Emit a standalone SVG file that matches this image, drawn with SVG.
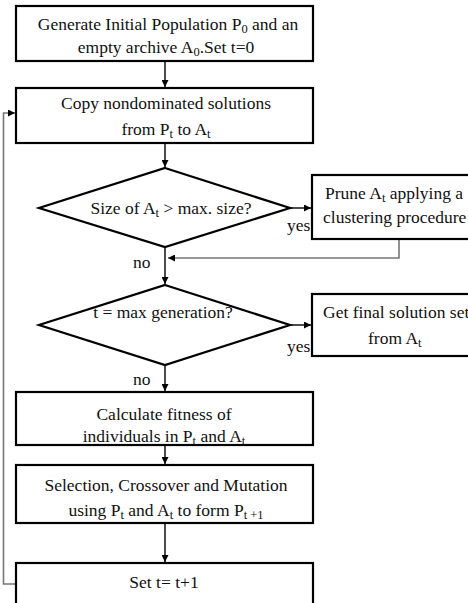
<svg xmlns="http://www.w3.org/2000/svg" width="468" height="603" viewBox="0 0 468 603">
  <defs>
    <marker id="arrow" viewBox="0 0 10 10" refX="10" refY="5" markerWidth="7" markerHeight="7" markerUnits="userSpaceOnUse" orient="auto">
      <path d="M0,0 L10,5 L0,10 Z" fill="#000"/>
    </marker>
  </defs>
  <style>
    .box { fill: #fff; stroke: #000; stroke-width: 2.2; }
    .dia { fill: #fff; stroke: #000; stroke-width: 2.2; }
    .lbl { font-family: "Liberation Serif", "Times New Roman", serif; font-size: 17.5px; fill: #111; }
    .c { text-anchor: middle; }
    .sub { font-size: 12.5px; }
    .flow { stroke: #000; stroke-width: 1.4; fill: none; marker-end: url(#arrow); }
    .back { stroke: #777; stroke-width: 1.6; fill: none; marker-end: url(#arrow); }
  </style>
  <rect width="468" height="603" fill="#fff"/>

  <g id="connectors">
    <line class="flow" x1="165" y1="61" x2="165" y2="87"/>
    <line class="flow" x1="165" y1="143" x2="165" y2="167"/>
    <line class="flow" x1="290" y1="208" x2="311" y2="208"/>
    <polyline class="back" points="399,239 399,258 168,258"/>
    <line class="flow" x1="165" y1="247" x2="165" y2="284"/>
    <line class="flow" x1="290" y1="325" x2="311" y2="325"/>
    <line class="flow" x1="165" y1="365" x2="165" y2="391"/>
    <line class="flow" x1="165" y1="445" x2="165" y2="464"/>
    <line class="flow" x1="165" y1="523" x2="165" y2="562"/>
    <polyline class="back" points="16,584 3.5,584 3.5,113 15,113"/>
    <text class="lbl" x="287" y="231">yes</text>
    <text class="lbl" x="133" y="268">no</text>
    <text class="lbl" x="287" y="352">yes</text>
    <text class="lbl" x="133" y="385">no</text>
  </g>

  <g id="init">
    <rect class="box" x="16" y="6" width="297" height="55"/>
    <text class="lbl c" x="168" y="30">Generate Initial Population  P<tspan class="sub" dy="3">0</tspan><tspan dy="-3"> and an</tspan></text>
    <text class="lbl c" x="166" y="53">empty archive A<tspan class="sub" dy="3">0</tspan><tspan dy="-3">.Set t=0</tspan></text>
  </g>

  <g id="copy">
    <rect class="box" x="16" y="88" width="297" height="55"/>
    <text class="lbl c" x="166" y="109">Copy nondominated solutions</text>
    <text class="lbl c" x="166" y="135">from P<tspan class="sub" dy="3">t</tspan><tspan dy="-3"> to A</tspan><tspan class="sub" dy="3">t</tspan></text>
  </g>

  <g id="size-check">
    <polygon class="dia" points="165,168 290,208 165,247 39,208"/>
    <text class="lbl c" x="171" y="214">Size of A<tspan class="sub" dy="3">t</tspan><tspan dy="-3"> &gt; max. size?</tspan></text>
  </g>

  <g id="prune">
    <rect class="box" x="312" y="175" width="170" height="64"/>
    <text class="lbl" x="325" y="199">Prune A<tspan class="sub" dy="3">t</tspan><tspan dy="-3"> applying a</tspan></text>
    <text class="lbl" x="323" y="223">clustering  procedure</text>
  </g>

  <g id="gen-check">
    <polygon class="dia" points="165,285 290,325 165,365 39,325"/>
    <text class="lbl c" x="163" y="318">t = max generation?</text>
  </g>

  <g id="final">
    <rect class="box" x="312" y="294" width="170" height="62"/>
    <text class="lbl" x="323" y="318">Get final solution set</text>
    <text class="lbl" x="368" y="344">from A<tspan class="sub" dy="3">t</tspan></text>
  </g>

  <g id="fitness">
    <rect class="box" x="16" y="392" width="297" height="53"/>
    <text class="lbl c" x="164" y="420">Calculate fitness of</text>
    <text class="lbl c" x="164" y="442">individuals in P<tspan class="sub" dy="3">t</tspan><tspan dy="-3"> and A</tspan><tspan class="sub" dy="3">t</tspan></text>
  </g>

  <g id="variation">
    <rect class="box" x="16" y="465" width="297" height="58"/>
    <text class="lbl c" x="166" y="491">Selection, Crossover and Mutation</text>
    <text class="lbl c" x="166" y="516">using P<tspan class="sub" dy="3">t</tspan><tspan dy="-3">  and A</tspan><tspan class="sub" dy="3">t</tspan><tspan dy="-3"> to form P</tspan><tspan class="sub" dy="3">t +1</tspan></text>
  </g>

  <g id="increment">
    <rect class="box" x="16" y="563" width="297" height="50"/>
    <text class="lbl c" x="164" y="588">Set t= t+1</text>
  </g>
</svg>
